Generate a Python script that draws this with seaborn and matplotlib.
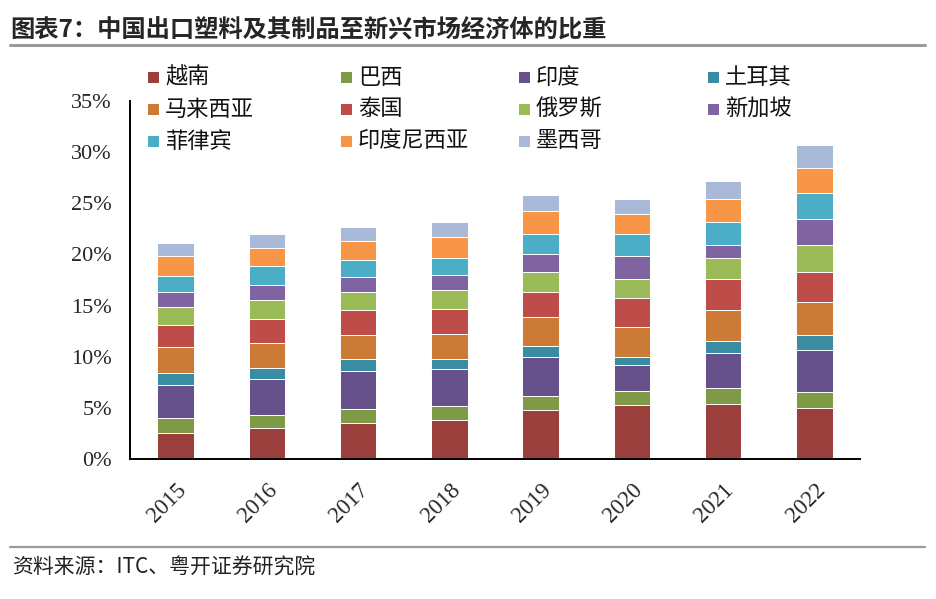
import numpy as np
import pandas as pd
import matplotlib
matplotlib.use("Agg")
import matplotlib.pyplot as plt
from matplotlib.patches import Rectangle
from matplotlib.lines import Line2D
import seaborn as sns

years = ["2015", "2016", "2017", "2018", "2019", "2020", "2021", "2022"]
countries = ["越南", "巴西", "印度", "土耳其", "马来西亚", "泰国",
             "俄罗斯", "新加坡", "菲律宾", "印度尼西亚", "墨西哥"]
vietnam = [2.55, 3.04, 3.53, 3.79, 4.80, 5.26, 5.36, 5.00]
brazil = [1.44, 1.24, 1.37, 1.35, 1.37, 1.37, 1.57, 1.51]
india = [3.26, 3.56, 3.73, 3.62, 3.82, 2.55, 3.40, 4.18]
turkey = [1.12, 1.05, 1.12, 1.01, 1.02, 0.81, 1.24, 1.47]
malaysia = [2.58, 2.45, 2.38, 2.46, 2.87, 2.91, 3.01, 3.23]
thailand = [2.19, 2.39, 2.45, 2.48, 2.48, 2.84, 2.97, 2.91]
russia = [1.70, 1.80, 1.79, 1.86, 1.96, 1.90, 2.13, 2.62]
singapore = [1.53, 1.53, 1.41, 1.41, 1.76, 2.16, 1.27, 2.51]
philippines = [1.54, 1.76, 1.70, 1.63, 1.96, 2.22, 2.19, 2.55]
indonesia = [1.89, 1.84, 1.83, 2.06, 2.16, 1.96, 2.25, 2.49]
mexico = [1.35, 1.37, 1.38, 1.54, 1.64, 1.44, 1.74, 2.19]
yticks = [0, 5, 10, 15, 20, 25, 30, 35]

series = [vietnam, brazil, india, turkey, malaysia, thailand,
          russia, singapore, philippines, indonesia, mexico]
colors = ["#9A3F3C", "#7E9A47", "#67518A", "#3A8CA2", "#CC7B37", "#BE4D4A",
          "#9BBB59", "#8064A2", "#4BADC6", "#F79646", "#A9B9D8"]

sns.set_style("white")
CJK = ["Noto Sans CJK SC", "DejaVu Sans"]
SERIF = ["Liberation Serif", "DejaVu Serif"]
plt.rcParams["font.family"] = CJK

W, H = 936, 599
fig = plt.figure(figsize=(W / 100, H / 100), dpi=100)
ax = fig.add_axes([130 / W, 1 - 459 / H, (860 - 130) / W, (459 - 101) / H])

cum = np.cumsum(np.array(series), axis=0)
for i in range(len(series) - 1, -1, -1):
    df = pd.DataFrame({"year": years, "val": cum[i]})
    sns.barplot(data=df, x="year", y="val", color=colors[i], width=0.4,
                edgecolor="white", linewidth=0.7, saturation=1, ax=ax,
                order=years)

ax.set_xlim(-0.5, len(years) - 0.5)
ax.set_ylim(0, 35)
ax.set_yticks(yticks)
ax.set_yticklabels([f"{v}%" for v in yticks], fontfamily=SERIF, fontsize=16)
ax.set_xticks(range(len(years)))
ax.set_xticklabels(years, fontfamily=SERIF, fontsize=16.5, rotation=45,
                   ha="right", va="top", rotation_mode="anchor")
ax.tick_params(axis="x", which="major", length=0, pad=15)
ax.set_xticks(np.arange(-0.5, len(years), 1), minor=True)
ax.tick_params(axis="x", which="minor", length=6, width=1.3, direction="out", color="black")
ax.tick_params(axis="y", length=6, width=1.3, direction="out", color="black", pad=7)
ax.set_xlabel("")
ax.set_ylabel("")
for s in ["top", "right"]:
    ax.spines[s].set_visible(False)
for s in ["left", "bottom"]:
    ax.spines[s].set_color("black")
    ax.spines[s].set_linewidth(1.4)

# legend (row-wise, 4 columns)
col_x = [148, 341, 519, 708]
row_y = [77, 109, 141]
for k, name in enumerate(countries):
    r, c = divmod(k, 4)
    x, y = col_x[c], row_y[r]
    fig.patches.append(Rectangle((x / W, 1 - (y + 6) / H), 11 / W, 11 / H,
                                 transform=fig.transFigure, facecolor=colors[k],
                                 edgecolor="none"))
    fig.text((x + 17) / W, 1 - y / H, name, fontsize=16, va="center", ha="left",
             family=CJK, color="#111111")

# title and frame lines
fig.text(10 / W, 1 - 30 / H, "图表7：中国出口塑料及其制品至新兴市场经济体的比重",
         fontsize=17.5, fontweight="bold", va="center", ha="left", family=CJK)
fig.add_artist(Line2D([10 / W, 925 / W], [1 - 45 / H, 1 - 45 / H],
                      transform=fig.transFigure, color="#9a9a9a", linewidth=2.2))
fig.add_artist(Line2D([10 / W, 925 / W], [1 - 547 / H, 1 - 547 / H],
                      transform=fig.transFigure, color="#9a9a9a", linewidth=1.6))
fig.text(12 / W, 1 - 568 / H, "资料来源：ITC、粤开证券研究院", fontsize=15,
         style="italic", va="center", ha="left", family=CJK, color="#222222")

fig.savefig("out.png", dpi=100, facecolor="white")
